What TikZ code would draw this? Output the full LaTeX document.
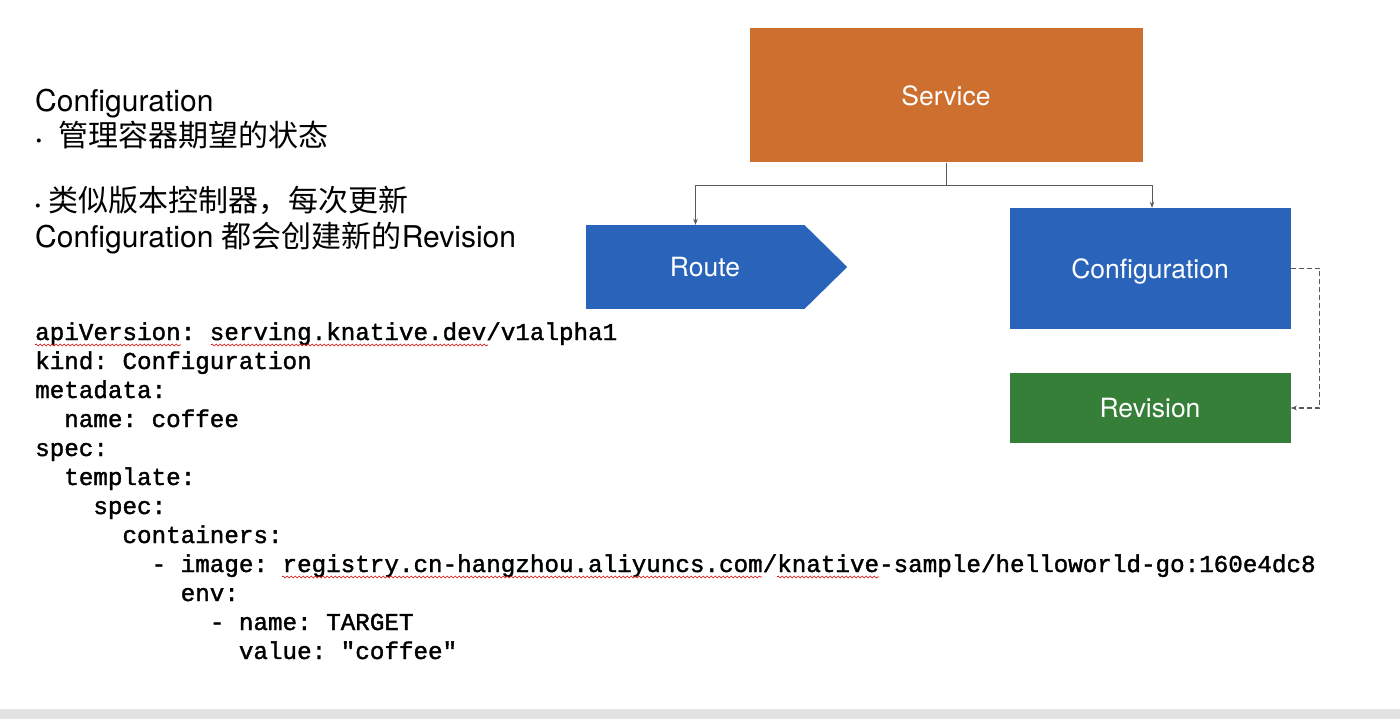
\documentclass[tikz,border=0pt]{standalone}
\usepackage{fontspec}
\setmainfont{TeX Gyre Heros}
\newfontfamily\cjk{Noto Sans CJK SC}
\newfontfamily\codefont[FakeBold=1.5]{Liberation Mono}
\usetikzlibrary{arrows.meta,decorations.pathmorphing,calc}
\definecolor{svcorange}{HTML}{CD6F2F}
\definecolor{rtblue}{HTML}{2A64BA}
\definecolor{revgreen}{HTML}{367F38}
\definecolor{connGray}{HTML}{5A5A5A}
\definecolor{barGray}{HTML}{E3E3E3}
\frenchspacing
\begin{document}
\begin{tikzpicture}[x=1pt,y=-1pt,
  box/.style={inner sep=0pt, text=white, text height=19.5pt, text depth=0pt, font=\fontsize{26.5}{30}\selectfont},
  conn/.style={draw=connGray, line width=1pt, -{Stealth[length=6pt,width=4.5pt]}},
  dashconn/.style={draw=connGray, line width=1.1pt, dash pattern=on 5pt off 3pt, -{Stealth[length=6pt,width=4.5pt]}},
  headtxt/.style={anchor=base west, inner sep=0pt, font=\fontsize{30}{36}\selectfont},
  bul/.style={anchor=base west, inner sep=0pt, font=\fontsize{16}{18}\selectfont},
  code/.style={anchor=base west, inner sep=0pt, font=\codefont\frenchspacing\fontsize{24.25}{29}\selectfont},
  wave/.style={draw=red!85!black, line width=0.6pt, decorate, decoration={snake, segment length=4pt, amplitude=1pt}}
]
\useasboundingbox (0,0) rectangle (1400,719);
\fill[white] (0,0) rectangle (1400,719);
\fill[barGray] (0,709) rectangle (1400,719);

% left text
\node[headtxt] (h1) at (35,112) {Configuration};
\node[bul] (b1) at (36,147) {•};
\node[headtxt] (h2) at (58,147) {\cjk 管理容器期望的状态};
\node[bul] (b2) at (35,212) {•};
\node[headtxt] (h3) at (48,212) {\cjk 类似版本控制器，每次更新};
\node[headtxt] (h4) at (35,248) {Configuration {\cjk 都会创建新的}Revision};

% code
\node[code] (c1) at (35,340) {apiVersion: serving.knative.dev/v1alpha1};
\node[code] (c2) at (35,369) {kind: Configuration};
\node[code] (c3) at (35,398) {metadata:};
\node[code] (c4) at (64.1,427) {name: coffee};
\node[code] (c5) at (35,456) {spec:};
\node[code] (c6) at (64.1,485) {template:};
\node[code] (c7) at (93.2,514) {spec:};
\node[code] (c8) at (122.3,543) {containers:};
\node[code] (c9) at (151.4,572) {- image: registry.cn-hangzhou.aliyuncs.com/knative-sample/helloworld-go:160e4dc8};
\node[code] (c10) at (180.5,601) {env:};
\node[code] (c11) at (209.6,630) {- name: TARGET};
\node[code] (c12) at (238.7,659) {value: "coffee"};

\draw[wave] (35,345) -- (181,345);
\draw[wave] (211,345) -- (488,345);
\draw[wave] (282,577) -- (762,577);
\draw[wave] (777,577) -- (879,577);

% diagram
\node[box, fill=svcorange, minimum width=393, minimum height=134] (service) at (946,95.5) {Service};
\node[box, fill=rtblue, minimum width=219, minimum height=84] (route) at (695.5,267) {\hspace*{19pt}Route};
\fill[rtblue] ([xshift=-1pt]route.north east) -- ([xshift=42pt]route.east) -- ([xshift=-1pt]route.south east) -- cycle;
\node[box, fill=rtblue, minimum width=281, minimum height=121] (config) at (1150,268.5) {Configuration};
\node[box, fill=revgreen, minimum width=281, minimum height=70] (revision) at (1150,408) {Revision};

\coordinate (j) at (946,186);
\draw[conn] (service.south) -- (j) -| (route.north);
\draw[conn] (j) -| ([xshift=2pt]config.north);
\draw[dashconn] (config.east) -- ++(29,0) |- (revision.east);
\end{tikzpicture}
\end{document}
